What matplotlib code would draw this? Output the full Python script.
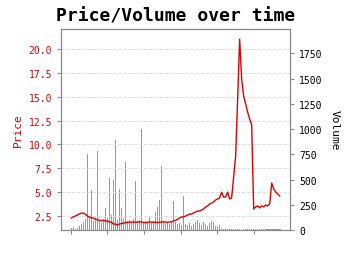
import numpy as np
import matplotlib
matplotlib.use("Agg")
import matplotlib.pyplot as plt

plt.rcParams['font.family'] = ['DejaVu Sans Mono']

# daily price series
price = [2.29, 2.40, 2.50, 2.60, 2.71, 2.81, 2.81, 2.70, 2.50, 2.40,
         2.30, 2.30, 2.19, 2.08, 2.08, 1.98, 2.08, 1.98, 1.98, 1.87,
         1.87, 1.66, 1.66, 1.56, 1.66, 1.70, 1.75, 1.80, 1.84, 1.84,
         1.87, 1.87, 1.84, 1.87, 1.90, 1.87, 1.84, 1.80, 1.84, 1.87,
         1.87, 1.84, 1.84, 1.80, 1.84, 1.87, 1.90, 1.87, 1.84, 1.87,
         1.90, 1.97, 2.05, 2.15, 2.30, 2.40, 2.40, 2.50, 2.60, 2.71,
         2.71, 2.81, 2.92, 3.02, 3.02, 3.13, 3.23, 3.44, 3.55, 3.76,
         3.86, 3.97, 4.18, 4.28, 4.39, 5.00, 4.49, 4.49, 5.00, 4.28,
         4.39, 6.59, 8.79, 14.76, 21.05, 16.86, 15.08, 14.24, 13.40, 12.67,
         12.04, 3.24, 3.45, 3.56, 3.35, 3.56, 3.45, 3.66, 3.56, 3.77,
         5.96, 5.33, 5.02, 4.80, 4.60]

volume = [20, 30, 15, 25, 40, 60, 80, 110, 752, 130,
          400, 90, 120, 782, 100, 70, 90, 218, 120, 515,
          150, 495, 891, 100, 406, 218, 110, 676, 90, 100,
          80, 110, 488, 90, 100, 1000, 80, 90, 70, 129,
          80, 90, 180, 230, 297, 637, 90, 70, 80, 60,
          90, 290, 80, 60, 70, 50, 337, 60, 50, 69,
          40, 60, 80, 102, 70, 50, 82, 60, 40, 70,
          85, 80, 40, 30, 45, 20, 15, 25, 10, 15,
          8, 10, 6, 12, 8, 5, 10, 7, 12, 6,
          9, 14, 8, 10, 6, 12, 7, 9, 11, 6,
          8, 12, 7, 10, 9]

days = np.arange(len(price))
tick_days = [0, 18, 36.5, 54.5, 72.5, 91]

fig = plt.figure(figsize=(3.5, 2.55), dpi=100)
ax1 = fig.add_axes([0.174, 0.094, 0.655, 0.788])
ax2 = ax1.twinx()

ax2.bar(days, volume, width=0.8, color='grey', alpha=0.8)
ax2.set_ylim(0, 1990)
ax2.set_yticks([0, 250, 500, 750, 1000, 1250, 1500, 1750])
ax2.set_ylabel('Volume', rotation=270, labelpad=12, fontsize=8)

ax1.plot(days, price, color='#e00000', linewidth=1)
ax1.set_ylim(1.03, 22.1)
ax1.set_yticks([2.5, 5.0, 7.5, 10.0, 12.5, 15.0, 17.5, 20.0])
ax1.set_ylabel('Price', color='#d00000', fontsize=8)
ax1.tick_params(axis='y', labelcolor='#d00000')
ax1.grid(axis='y', linestyle='--', color='#dddddd', linewidth=0.7)
ax1.set_xlim(-5.2, 109.2)
ax1.set_xticks(tick_days)
ax1.set_xticklabels([])

ax1.set_zorder(ax2.get_zorder() + 1)
ax1.patch.set_visible(False)

for ax in (ax1, ax2):
    ax.tick_params(labelsize=7, color='#888888', length=3)
    for s in ax.spines.values():
        s.set_color('#888888')

ax1.set_title('Price/Volume over time', fontsize=13, fontweight='bold', pad=6)

fig.savefig('out.png', dpi=100)
